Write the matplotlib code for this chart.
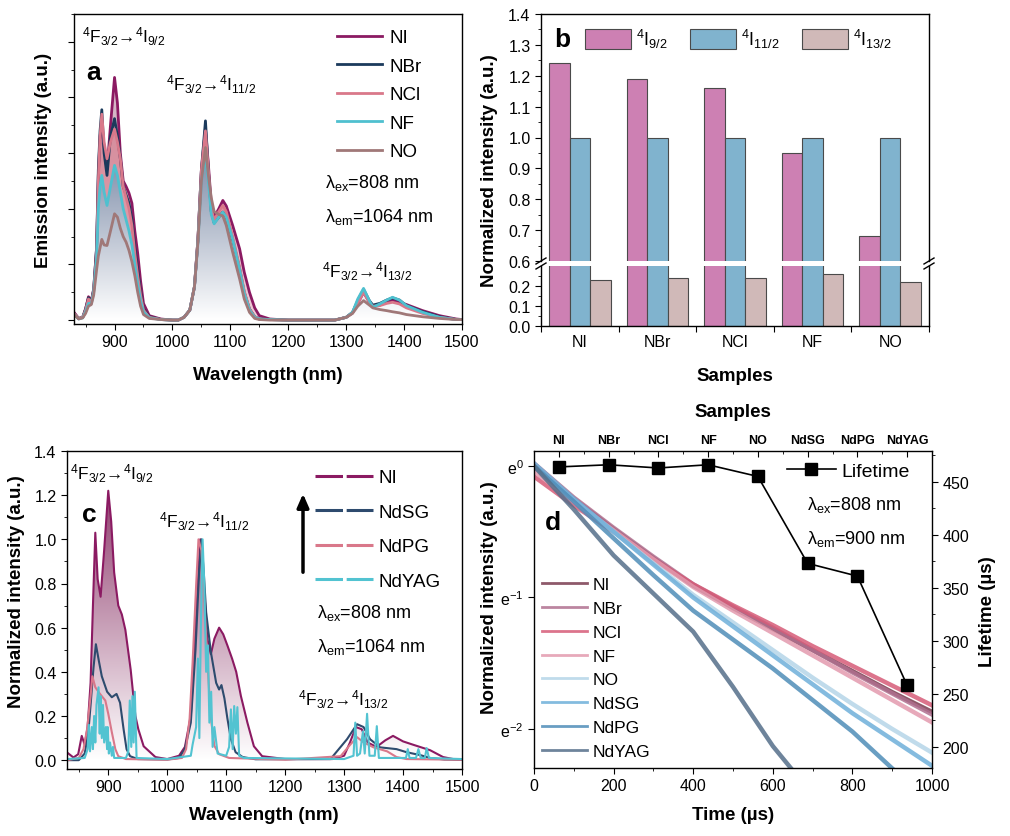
import numpy as np
import matplotlib
matplotlib.use("Agg")
import matplotlib.pyplot as plt
from matplotlib.path import Path
from matplotlib.patches import PathPatch, Patch
from matplotlib.lines import Line2D
from matplotlib.colors import LinearSegmentedColormap
from matplotlib.ticker import MultipleLocator, FixedLocator, FuncFormatter, NullLocator

plt.rcParams['font.family'] = ['Liberation Sans', 'DejaVu Sans']
plt.rcParams['mathtext.fontset'] = 'custom'
plt.rcParams['mathtext.rm'] = 'Liberation Sans'
plt.rcParams['mathtext.it'] = 'Liberation Sans:italic'
plt.rcParams['mathtext.bf'] = 'Liberation Sans:bold'
plt.rcParams['axes.linewidth'] = 1.0
plt.rcParams['xtick.major.size'] = 4
plt.rcParams['ytick.major.size'] = 4
plt.rcParams['xtick.minor.size'] = 2.2
plt.rcParams['ytick.minor.size'] = 2.2
plt.rcParams['xtick.labelsize'] = 11.5
plt.rcParams['ytick.labelsize'] = 11.5

# ---------------- data ----------------
# panel a : emission spectra (arb. units), common wavelength grid
wl_a = [830, 838, 845, 850, 855, 860, 864, 869, 872, 875,
        878, 882, 887, 893, 900, 905, 910, 915, 920, 925,
        930, 935, 940, 945, 950, 960, 980, 1000, 1010, 1020,
        1030, 1038, 1044, 1050, 1057, 1062, 1067, 1072, 1080, 1087,
        1093, 1104, 1116, 1124, 1133, 1142, 1150, 1168, 1200, 1280,
        1300, 1311, 1320, 1330, 1340, 1346, 1358, 1370, 1380, 1392,
        1404, 1432, 1461, 1490, 1500]
ni_a = [0.14, 0.03, 0.05, 0.2, 0.42, 0.35, 0.56, 1.3, 2.6, 3.3,
        3.55, 3.1, 2.7, 3.5, 4.36, 3.9, 3.0, 2.5, 2.4, 2.28,
        2.1, 1.6, 1.2, 0.7, 0.3, 0.08, 0.02, 0.0, 0.0, 0.05,
        0.18, 0.6, 1.45, 2.7, 3.45, 2.8, 2.1, 1.85, 2.0, 2.15,
        2.05, 1.7, 1.28, 0.86, 0.5, 0.22, 0.08, 0.02, 0.0, 0.0,
        0.05, 0.13, 0.3, 0.5, 0.32, 0.25, 0.27, 0.32, 0.36, 0.32,
        0.28, 0.17, 0.08, 0.02, 0.01]
nbr_a = [0.12, 0.03, 0.05, 0.2, 0.4, 0.33, 0.55, 1.3, 2.7, 3.4,
         3.78, 3.0, 2.6, 3.3, 3.62, 3.3, 2.9, 2.4, 2.25, 2.1,
         1.8, 1.3, 0.9, 0.5, 0.2, 0.06, 0.01, 0.0, 0.0, 0.05,
         0.18, 0.6, 1.45, 2.7, 3.58, 2.7, 1.95, 1.75, 1.85, 1.94,
         1.85, 1.45, 0.92, 0.5, 0.2, 0.06, 0.02, 0.01, 0.0, 0.0,
         0.05, 0.14, 0.35, 0.55, 0.35, 0.27, 0.3, 0.36, 0.40, 0.36,
         0.26, 0.15, 0.06, 0.01, 0.01]
ncl_a = [0.12, 0.03, 0.05, 0.18, 0.38, 0.32, 0.52, 1.2, 2.5, 3.3,
         3.7, 3.2, 2.9, 3.2, 3.43, 3.2, 2.9, 2.4, 2.2, 2.0,
         1.7, 1.2, 0.8, 0.45, 0.18, 0.05, 0.01, 0.0, 0.0, 0.05,
         0.18, 0.6, 1.45, 2.7, 3.4, 2.7, 2.0, 1.8, 1.95, 2.06,
         1.95, 1.5, 0.95, 0.52, 0.2, 0.06, 0.02, 0.01, 0.0, 0.0,
         0.05, 0.13, 0.3, 0.5, 0.32, 0.25, 0.26, 0.3, 0.32, 0.29,
         0.22, 0.12, 0.05, 0.01, 0.01]
nf_a = [0.1, 0.02, 0.04, 0.15, 0.3, 0.3, 0.5, 1.1, 2.0, 2.4,
        2.6, 2.3, 2.06, 2.4, 2.78, 2.6, 2.3, 2.0, 1.8, 1.6,
        1.35, 1.0, 0.65, 0.35, 0.15, 0.04, 0.01, 0.0, 0.0, 0.05,
        0.18, 0.6, 1.4, 2.5, 2.95, 2.5, 1.9, 1.73, 1.85, 1.94,
        1.85, 1.45, 0.9, 0.48, 0.18, 0.05, 0.02, 0.01, 0.0, 0.0,
        0.05, 0.14, 0.38, 0.57, 0.35, 0.23, 0.29, 0.36, 0.41, 0.36,
        0.26, 0.14, 0.05, 0.01, 0.01]
no_a = [0.1, 0.02, 0.04, 0.12, 0.25, 0.28, 0.45, 0.9, 1.15, 1.3,
        1.45, 1.35, 1.34, 1.6, 1.91, 1.85, 1.65, 1.5, 1.4, 1.25,
        1.05, 0.8, 0.5, 0.25, 0.1, 0.03, 0.01, 0.0, 0.0, 0.05,
        0.18, 0.6, 1.4, 2.5, 3.1, 2.6, 2.2, 1.95, 1.9, 1.87,
        1.70, 1.22, 0.74, 0.38, 0.14, 0.03, 0.01, 0.0, 0.0, 0.0,
        0.05, 0.12, 0.25, 0.35, 0.27, 0.22, 0.19, 0.17, 0.15, 0.13,
        0.10, 0.06, 0.03, 0.01, 0.01]
names_a = ['NI', 'NBr', 'NCl', 'NF', 'NO']
colors_a = ['#8B1A62', '#1B3A5C', '#D9788A', '#4FC0CF', '#A07878']

# panel b : normalized integrated intensity
samples_b = ['NI', 'NBr', 'NCl', 'NF', 'NO']
i9_b = [1.24, 1.19, 1.16, 0.95, 0.68]
i11_b = [1.0, 1.0, 1.0, 1.0, 1.0]
i13_b = [0.23, 0.24, 0.24, 0.26, 0.22]

# panel c : normalized spectra
wl_ni_c = [830, 841, 849, 855, 860, 865, 870, 874, 878, 882,
           887, 893, 900, 905, 910, 917, 923, 929, 938, 946,
           951, 960, 980, 1000, 1020, 1030, 1040, 1048, 1056, 1062,
           1068, 1074, 1080, 1088, 1095, 1102, 1110, 1117, 1125, 1136,
           1147, 1161, 1200, 1280, 1300, 1310, 1320, 1330, 1340, 1355,
           1370, 1383, 1400, 1417, 1446, 1468, 1485, 1500]
ni_c = [0.035, 0.012, 0.027, 0.11, 0.07, 0.15, 0.35, 0.7, 1.03, 0.82,
        0.74, 0.95, 1.22, 1.08, 0.85, 0.70, 0.66, 0.59, 0.41, 0.2,
        0.14, 0.063, 0.014, 0.005, 0.02, 0.06, 0.2, 0.6, 1.0, 0.8,
        0.55, 0.48, 0.55, 0.60, 0.57, 0.52, 0.46, 0.40, 0.29, 0.17,
        0.063, 0.018, 0.005, 0.005, 0.02, 0.08, 0.15, 0.14, 0.08, 0.06,
        0.09, 0.11, 0.085, 0.07, 0.045, 0.014, 0.005, 0.003]
wl_sg_c = [830, 850, 860, 866, 870, 875, 879, 884, 889, 898,
           906, 914, 920, 926, 931, 937, 950, 1000, 1020, 1030,
           1040, 1048, 1054, 1058, 1062, 1066, 1074, 1083, 1088, 1092,
           1097, 1102, 1108, 1116, 1128, 1150, 1277, 1305, 1322, 1333,
           1344, 1361, 1389, 1406, 1429, 1446, 1470, 1500]
sg_c = [0.0, 0.0, 0.03, 0.12, 0.25, 0.42, 0.525, 0.45, 0.38, 0.31,
        0.285, 0.30, 0.26, 0.14, 0.05, 0.018, 0.005, 0.003, 0.01, 0.05,
        0.17, 0.5, 0.85, 1.0, 0.85, 0.67, 0.49, 0.35, 0.32, 0.34,
        0.28, 0.19, 0.095, 0.036, 0.014, 0.004, 0.005, 0.095, 0.163, 0.15,
        0.095, 0.058, 0.05, 0.036, 0.023, 0.01, 0.003, 0.002]
wl_pg_c = [830, 850, 858, 864, 870, 873, 878, 886, 895, 900,
           906, 912, 917, 930, 1000, 1025, 1032, 1038, 1043, 1049,
           1053, 1058, 1063, 1069, 1074, 1080, 1088, 1105, 1200, 1294,
           1311, 1322, 1333, 1350, 1373, 1389, 1406, 1500]
pg_c = [0.0, 0.01, 0.05, 0.14, 0.29, 0.38, 0.33, 0.30, 0.27, 0.21,
        0.127, 0.05, 0.018, 0.005, 0.002, 0.01, 0.05, 0.19, 0.44, 0.79,
        1.0, 0.95, 0.71, 0.41, 0.19, 0.065, 0.027, 0.01, 0.002, 0.018,
        0.072, 0.104, 0.081, 0.058, 0.04, 0.014, 0.005, 0.002]
yag_c = [(830, 0.005), (860, 0.01), (865, 0.05), (867, 0.16), (869, 0.04),
         (872, 0.15), (874, 0.05), (876, 0.2), (878, 0.08), (880, 0.25),
         (883.5, 0.33), (885.5, 0.12), (887, 0.29), (889, 0.1), (891, 0.25),
         (893, 0.08), (896, 0.15), (898, 0.05), (899, 0.15), (901, 0.03),
         (903, 0.08), (906, 0.02), (908, 0.06), (910, 0.01), (930, 0.01),
         (934, 0.04), (936.5, 0.27), (939, 0.06), (941, 0.29), (943, 0.08),
         (945, 0.31), (948, 0.01), (1000, 0.005), (1040, 0.02), (1043, 0.07),
         (1049, 0.15), (1052, 0.46), (1054.5, 0.1), (1057, 0.6), (1060, 1.0),
         (1063, 0.79), (1066, 0.4), (1069, 0.52), (1071.5, 0.17), (1074.5, 0.31),
         (1077, 0.06), (1080, 0.15), (1085.5, 0.03), (1100, 0.02), (1105, 0.06),
         (1108, 0.23), (1111, 0.05), (1113.6, 0.245), (1116.5, 0.12), (1119, 0.24),
         (1122, 0.02), (1130, 0.01), (1300, 0.005), (1316, 0.02), (1319, 0.17),
         (1322, 0.02), (1327, 0.03), (1332, 0.13), (1335, 0.03), (1339, 0.21),
         (1343, 0.02), (1352, 0.02), (1355.5, 0.154), (1359, 0.01), (1405, 0.01),
         (1408, 0.05), (1411, 0.01), (1422, 0.01), (1426, 0.05), (1430, 0.01),
         (1437, 0.01), (1440, 0.055), (1444, 0.01), (1500, 0.005)]
names_c = ['NI', 'NdSG', 'NdPG', 'NdYAG']
colors_c = ['#8B1A62', '#2E4B6E', '#D9788A', '#52C3D1']

# panel d : decay curves, ln(I/I0) read on the e-scale, every 100 us
t_d = [0, 100, 200, 300, 400, 500, 600, 700, 800, 900, 1000]
ln_ni = [0.0, -0.25, -0.48, -0.70, -0.91, -1.08, -1.24, -1.40, -1.56, -1.72, -1.87]
ln_nbr = [0.02, -0.24, -0.47, -0.69, -0.90, -1.07, -1.23, -1.40, -1.57, -1.73, -1.89]
ln_ncl = [-0.08, -0.30, -0.50, -0.71, -0.90, -1.06, -1.21, -1.37, -1.52, -1.67, -1.82]
ln_nf = [-0.04, -0.27, -0.49, -0.71, -0.92, -1.10, -1.27, -1.44, -1.61, -1.78, -1.95]
ln_no = [0.0, -0.26, -0.50, -0.74, -0.98, -1.19, -1.40, -1.61, -1.81, -2.0, -2.18]
ln_sg = [0.02, -0.25, -0.50, -0.75, -1.0, -1.22, -1.44, -1.66, -1.88, -2.08, -2.28]
ln_pg = [0.0, -0.27, -0.55, -0.83, -1.10, -1.32, -1.54, -1.78, -2.02, -2.30]
ln_yag = [0.0, -0.33, -0.68, -0.97, -1.26, -1.68, -2.13, -2.50]
names_d = ['NI', 'NBr', 'NCl', 'NF', 'NO', 'NdSG', 'NdPG', 'NdYAG']
colors_d = ['#7A3C50', '#B0708F', '#D65C78', '#E39AAE', '#B5D5E8', '#6FB0DA', '#4F8DB8', '#556F8A']
lifetime = [464, 466, 463, 466, 455, 373, 361, 258]

# ---------------- figure ----------------
W, H = 1010, 837
fig = plt.figure(figsize=(W / 100, H / 100), dpi=100)


def box(l, t, r, b):
    return fig.add_axes([l / W, 1 - b / H, (r - l) / W, (b - t) / H])


def ftext(x, y, s, **kw):
    return fig.text(x / W, 1 - y / H, s, **kw)


def grad_fill(ax, x, y, top_color, ymax, z):
    x = np.asarray(x, float)
    y = np.asarray(y, float)
    verts = np.column_stack([np.r_[x[0], x, x[-1]], np.r_[0, y, 0]])
    patch = PathPatch(Path(verts), facecolor='none', edgecolor='none', transform=ax.transData)
    ax.add_patch(patch)
    cmap = LinearSegmentedColormap.from_list('g', ['white', top_color])
    im = ax.imshow(np.linspace(0, 1, 256).reshape(-1, 1), cmap=cmap, aspect='auto', origin='lower',
                   extent=[x[0], x[-1], 0, ymax], zorder=z)
    im.set_clip_path(patch)


def trans(lo):
    return r'$^{4}$F$_{3/2}$→$^{4}$I$_{%s}$' % lo


LBL = dict(fontsize=13.5, fontweight='bold', ha='center', va='center')

# ---- panel a ----
ax_a = box(74, 15, 462, 325)
grad_fill(ax_a, wl_a, ni_a, '#40567F', 4.4, 1)
ax_a.fill_between(wl_a, ni_a, ncl_a, where=np.array(ni_a) > np.array(ncl_a), interpolate=True,
                  color='#EBC5D0', alpha=0.85, lw=0, zorder=1.5)
ax_a.fill_between(wl_a, ncl_a, nf_a, where=np.array(ncl_a) > np.array(nf_a), interpolate=True,
                  color='#E8929F', alpha=0.85, lw=0, zorder=1.5)
for ys, nm, c in zip([ni_a, nbr_a, ncl_a, nf_a, no_a], names_a, colors_a):
    ax_a.plot(wl_a, ys, color=c, lw=2.0, label=nm, zorder=2)
ax_a.set_xlim(830, 1500)
ax_a.set_ylim(-0.07, 5.5)
ax_a.xaxis.set_major_locator(MultipleLocator(100))
ax_a.xaxis.set_minor_locator(MultipleLocator(50))
ax_a.set_yticks(range(6))
ax_a.yaxis.set_minor_locator(MultipleLocator(0.5))
ax_a.set_yticklabels([])
ax_a.tick_params(which='both', direction='out', top=False, right=False)
ax_a.legend(loc='upper left', bbox_to_anchor=(337 / W, 1 - 30 / H), bbox_transform=fig.transFigure,
            frameon=False, fontsize=13.5, handlelength=2.4, handletextpad=0.4, labelspacing=0.61,
            borderpad=0, borderaxespad=0)
ftext(82, 43, trans('9/2'), fontsize=12.5)
ftext(166, 91, trans('11/2'), fontsize=12.5)
ftext(322, 278, trans('13/2'), fontsize=12.5)
ftext(325, 188, r'λ$_{\rm ex}$=808 nm', fontsize=13)
ftext(325, 222, r'λ$_{\rm em}$=1064 nm', fontsize=13)
ftext(86, 80, 'a', fontsize=19, fontweight='bold')
ftext(44, 160, 'Emission intensity (a.u.)', rotation=90, **LBL)
ftext(268, 376, 'Wavelength (nm)', **LBL)

# ---- panel b (broken axis) ----
ax_bt = box(541, 15, 929, 262)
ax_bb = box(541, 267, 929, 327)
xb = np.arange(len(samples_b))
wb = 0.265
for ax in (ax_bt, ax_bb):
    ax.bar(xb - wb, i9_b, wb, color='#CD80B3', edgecolor='#4A4A4A', lw=0.8)
    ax.bar(xb, i11_b, wb, color='#80B3CE', edgecolor='#4A4A4A', lw=0.8)
    ax.bar(xb + wb, i13_b, wb, color='#D0B9B8', edgecolor='#4A4A4A', lw=0.8)
    ax.set_xlim(-0.5, 4.5)
    ax.tick_params(which='both', direction='out', top=False, right=False)
ax_bt.set_ylim(0.6, 1.4)
ax_bb.set_ylim(0, 0.3)
ax_bt.spines['bottom'].set_visible(False)
ax_bb.spines['top'].set_visible(False)
ax_bt.tick_params(bottom=False, labelbottom=False)
ax_bt.yaxis.set_major_locator(MultipleLocator(0.1))
ax_bt.yaxis.set_minor_locator(MultipleLocator(0.05))
ax_bt.yaxis.set_major_formatter(FuncFormatter(lambda v, p: '%.1f' % v))
ax_bb.set_yticks([0, 0.1, 0.2])
ax_bb.yaxis.set_minor_locator(FixedLocator([0.05, 0.15, 0.25]))
ax_bb.yaxis.set_major_formatter(FuncFormatter(lambda v, p: '%.1f' % v))
ax_bb.set_xticks(np.arange(-0.5, 5, 1.0))
ax_bb.set_xticklabels([])
ax_bb.set_xticks(xb, minor=True)
ax_bb.set_xticklabels(samples_b, minor=True)
ax_bb.tick_params(axis='x', which='minor', length=0, pad=6)
for xp in (541, 929):
    for yp in (262, 267):
        fig.add_artist(Line2D([(xp - 5) / W, (xp + 5) / W], [1 - (yp + 3) / H, 1 - (yp - 3) / H],
                              color='black', lw=1.0))
hb = [Patch(facecolor=c, edgecolor='#4A4A4A', lw=0.8) for c in ('#CD80B3', '#80B3CE', '#D0B9B8')]
ax_bt.legend(hb, [r'$^{4}$I$_{9/2}$', r'$^{4}$I$_{11/2}$', r'$^{4}$I$_{13/2}$'], loc='upper left',
             bbox_to_anchor=(585 / W, 1 - 28 / H), bbox_transform=fig.transFigure, ncol=3,
             frameon=False, fontsize=13, handlelength=2.55, handleheight=1.25, handletextpad=0.3,
             columnspacing=1.2, borderpad=0, borderaxespad=0)
ftext(554, 47, 'b', fontsize=19, fontweight='bold')
ftext(489, 171, 'Normalized intensity (a.u.)', rotation=90, **LBL)
ftext(735, 377, 'Samples', **LBL)

# ---- panel c ----
ax_c = box(67, 452, 462, 770)
grad_fill(ax_c, wl_ni_c, ni_c, '#8E3B6C', 1.25, 1)
yag = np.array(yag_c)
ax_c.plot(wl_ni_c, ni_c, color=colors_c[0], lw=1.5, zorder=2)
ax_c.plot(wl_sg_c, sg_c, color=colors_c[1], lw=1.5, zorder=2)
ax_c.plot(wl_pg_c, pg_c, color=colors_c[2], lw=1.5, zorder=2)
ax_c.plot(yag[:, 0], yag[:, 1], color=colors_c[3], lw=1.5, zorder=2)
ax_c.set_xlim(830, 1500)
ax_c.set_ylim(-0.04, 1.4)
ax_c.xaxis.set_major_locator(MultipleLocator(100))
ax_c.xaxis.set_minor_locator(MultipleLocator(50))
ax_c.set_yticks(np.arange(0, 1.41, 0.2))
ax_c.yaxis.set_minor_locator(MultipleLocator(0.1))
ax_c.yaxis.set_major_formatter(FuncFormatter(lambda v, p: '%.1f' % v))
ax_c.tick_params(which='both', direction='out', top=False, right=False)
hc = [Line2D([], [], color=c, lw=2.2, linestyle=(0, (9, 1.2))) for c in colors_c]
ax_c.legend(hc, names_c, loc='upper left', bbox_to_anchor=(315 / W, 1 - 470 / H),
            bbox_transform=fig.transFigure, frameon=False, fontsize=13.5, handlelength=3.1,
            handletextpad=0.3, labelspacing=0.93, borderpad=0, borderaxespad=0)
ax_c.annotate('', xy=(303 / W, 1 - 492 / H), xytext=(303 / W, 1 - 576 / H),
              xycoords='figure fraction', textcoords='figure fraction',
              arrowprops=dict(arrowstyle='-|>,head_width=0.35,head_length=0.8', color='black', lw=2.5))
ftext(70, 480, trans('9/2'), fontsize=12.5)
ftext(159, 528, trans('11/2'), fontsize=12.5)
ftext(298, 706, trans('13/2'), fontsize=12.5)
ftext(317, 618, r'λ$_{\rm ex}$=808 nm', fontsize=13)
ftext(317, 652, r'λ$_{\rm em}$=1064 nm', fontsize=13)
ftext(82, 522, 'c', fontsize=19, fontweight='bold')
ftext(17, 592, 'Normalized intensity (a.u.)', rotation=90, **LBL)
ftext(264, 816, 'Wavelength (nm)', **LBL)

# ---- panel d ----
ax_d = box(534, 452, 932, 769)
ax_d.set_yscale('log', base=np.e)
for ln, nm, c in zip([ln_ni, ln_nbr, ln_ncl, ln_nf, ln_no, ln_sg, ln_pg, ln_yag], names_d, colors_d):
    ax_d.plot(t_d[:len(ln)], np.exp(ln), color=c, lw=3.2, alpha=0.85, label=nm)
ax_d.set_xlim(0, 1000)
ax_d.set_ylim(np.exp(-2.297), np.exp(0.114))
ax_d.xaxis.set_major_locator(MultipleLocator(200))
ax_d.xaxis.set_minor_locator(MultipleLocator(100))
ax_d.yaxis.set_major_locator(FixedLocator(np.exp([-2.0, -1.0, 0.0])))
ax_d.yaxis.set_minor_locator(NullLocator())
ax_d.yaxis.set_major_formatter(FuncFormatter(lambda v, p: r'$\mathregular{e^{%d}}$' % int(round(np.log(v)))))
ax_d.tick_params(which='both', direction='out', top=False, right=False)
leg_d = ax_d.legend(loc='upper left', bbox_to_anchor=(542 / W, 1 - 578 / H), bbox_transform=fig.transFigure,
                    frameon=False, fontsize=12.5, handlelength=2.6, handletextpad=0.3, labelspacing=0.5,
                    borderpad=0, borderaxespad=0)
for lh in leg_d.get_lines():
    lh.set_linewidth(2.0)

ax_life = fig.add_axes(ax_d.get_position().bounds, facecolor='none')
ax_life.plot(range(len(lifetime)), lifetime, color='black', lw=1.2, marker='s', ms=8, label='Lifetime')
ax_life.set_xlim(-0.5, 7.5)
ax_life.set_ylim(180, 479)
ax_life.xaxis.tick_top()
ax_life.yaxis.tick_right()
ax_life.set_xticks(range(len(names_d)))
ax_life.set_xticklabels(names_d, fontweight='bold', fontsize=9)
ax_life.xaxis.set_minor_locator(MultipleLocator(0.5))
ax_life.yaxis.set_major_locator(MultipleLocator(50))
ax_life.yaxis.set_minor_locator(MultipleLocator(25))
ax_life.tick_params(axis='x', which='both', direction='in')
ax_life.tick_params(axis='y', which='both', direction='out')
for s in ax_life.spines.values():
    s.set_visible(False)
ax_life.legend(loc='upper left', bbox_to_anchor=(787 / W, 1 - 463 / H), bbox_transform=fig.transFigure,
               frameon=False, fontsize=14, handlelength=2.5, handletextpad=0.3, borderpad=0, borderaxespad=0)
ftext(807, 510, r'λ$_{\rm ex}$=808 nm', fontsize=13)
ftext(807, 544, r'λ$_{\rm em}$=900 nm', fontsize=13)
ftext(545, 530, 'd', fontsize=19, fontweight='bold')
ftext(489, 598, 'Normalized intensity (a.u.)', rotation=90, **LBL)
ftext(733, 816, 'Time (µs)', **LBL)
ftext(988, 612, 'Lifetime (µs)', rotation=90, **LBL)
ftext(733, 413, 'Samples', **LBL)

fig.savefig('out.png', dpi=100)
